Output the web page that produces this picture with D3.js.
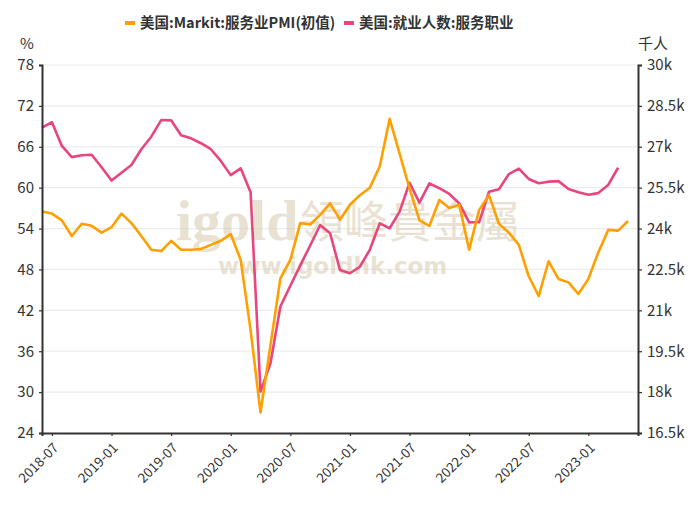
<!DOCTYPE html>
<html>
<head>
<meta charset="utf-8">
<script src="https://cdn.jsdelivr.net/npm/d3@7"></script>
<style>
  html, body { margin: 0; padding: 0; background: #fff; }
  svg { display: block; font-family: "Noto Sans CJK SC", "Noto Sans", sans-serif; }
</style>
</head>
<body>
<svg id="chart" width="700" height="525"></svg>
<script>
// ---- data ----
const months = [
  "2018-06","2018-07","2018-08","2018-09","2018-10","2018-11","2018-12",
  "2019-01","2019-02","2019-03","2019-04","2019-05","2019-06","2019-07","2019-08","2019-09","2019-10","2019-11","2019-12",
  "2020-01","2020-02","2020-03","2020-04","2020-05","2020-06","2020-07","2020-08","2020-09","2020-10","2020-11","2020-12",
  "2021-01","2021-02","2021-03","2021-04","2021-05","2021-06","2021-07","2021-08","2021-09","2021-10","2021-11","2021-12",
  "2022-01","2022-02","2022-03","2022-04","2022-05","2022-06","2022-07","2022-08","2022-09","2022-10","2022-11","2022-12",
  "2023-01","2023-02","2023-03","2023-04","2023-05","2023-06"
];
const seriesNames = ["美国:Markit:服务业PMI(初值)", "美国:就业人数:服务职业"];
// Services PMI flash (%), 2018-06 .. 2023-05
const pmiValues = [
  56.5, 56.2, 55.2, 52.9, 54.7, 54.4, 53.4,
  54.2, 56.2, 54.8, 52.9, 50.9, 50.7, 52.2, 50.9, 50.9, 51.0, 51.6, 52.2,
  53.2, 49.4, 39.1, 27.0, 36.9, 46.7, 49.4, 54.8, 54.6, 56.0, 57.7, 55.3,
  57.5, 58.9, 60.0, 63.1, 70.1, 65.0, 59.9, 55.2, 54.4, 58.2, 57.0, 57.5,
  50.9, 56.7, 58.9, 54.7, 53.4, 51.6, 47.0, 44.1, 49.2, 46.6, 46.1, 44.4,
  46.6, 50.5, 53.8, 53.7, 55.1
];
// Employment, service occupations (thousand persons), 2018-06 .. 2023-04
const empValues = [
  27700, 27900, 27030, 26620, 26690, 26710, 26250,
  25760, 26050, 26330, 26910, 27370, 27980, 27970, 27420, 27310, 27130, 26910, 26480,
  25960, 26210, 25330, 18020, 19060, 21140, 21900, 22650, 23380, 24130, 23830, 22480,
  22360, 22600, 23220, 24190, 24010, 24620, 25680, 24950, 25660, 25480, 25270, 24930,
  24230, 24230, 25350, 25440, 26000, 26200, 25820, 25660, 25720, 25740, 25450, 25330,
  25240, 25300, 25600, 26230
];
const leftTicks = [24, 30, 36, 42, 48, 54, 60, 66, 72, 78];
const rightTicks = [16500, 18000, 19500, 21000, 22500, 24000, 25500, 27000, 28500, 30000];
const xTickLabels = ["2018-07","2019-01","2019-07","2020-01","2020-07","2021-01","2021-07","2022-01","2022-07","2023-01"];
const colors = ["#ff9f00", "#e8467c"];

// ---- layout ----
const svg = d3.select("#chart");
const L = 42, R = 638, T = 65, B = 433;

const x = d3.scalePoint().domain(months).range([L, R]);
const yL = d3.scaleLinear().domain([24, 78]).range([B, T]);
const yR = d3.scaleLinear().domain([16500, 30000]).range([B, T]);

// grid
svg.append("g").selectAll("line").data(leftTicks.slice(1)).join("line")
  .attr("x1", L).attr("x2", R)
  .attr("y1", d => yL(d)).attr("y2", d => yL(d))
  .attr("stroke", "#ececec").attr("stroke-width", 1.2);

// watermark
const wm = svg.append("g").attr("opacity", 0.55).attr("fill", "#d8ccb0");
wm.append("text").attr("x", 176).attr("y", 240)
  .attr("font-family", "Liberation Serif, serif").attr("font-weight", "bold")
  .attr("font-size", 58).text("igold");
wm.append("text").attr("x", 300).attr("y", 238)
  .attr("font-family", "Noto Sans CJK TC, serif")
  .attr("font-size", 44).text("領峰貴金屬");
wm.append("text").attr("x", 218).attr("y", 274)
  .attr("font-family", "DejaVu Sans, sans-serif").attr("font-weight", "bold")
  .attr("font-size", 23).text("www.igoldhk.com");

// lines
const linePmi = d3.line().x((d, i) => x(months[i])).y(d => yL(d));
const lineEmp = d3.line().x((d, i) => x(months[i])).y(d => yR(d));
svg.append("path").datum(empValues).attr("d", lineEmp)
  .attr("fill", "none").attr("stroke", colors[1]).attr("stroke-width", 2.6)
  .attr("stroke-linejoin", "round");
svg.append("path").datum(pmiValues).attr("d", linePmi)
  .attr("fill", "none").attr("stroke", colors[0]).attr("stroke-width", 2.6)
  .attr("stroke-linejoin", "round");

// axes
const axisColor = "#333";
const gL = svg.append("g").attr("transform", `translate(${L},0)`)
  .call(d3.axisLeft(yL).tickValues(leftTicks).tickSize(3).tickPadding(5));
const gR = svg.append("g").attr("transform", `translate(${R},0)`)
  .call(d3.axisRight(yR).tickValues(rightTicks).tickSize(4).tickPadding(5)
    .tickFormat(d => (d / 1000) + "k"));
const gB = svg.append("g").attr("transform", `translate(0,${B})`)
  .call(d3.axisBottom(x).tickValues(xTickLabels).tickSize(3).tickPadding(4));
[gL, gR, gB].forEach(g => {
  g.select(".domain").attr("stroke", axisColor).attr("stroke-width", 2);
  g.selectAll(".tick line").attr("stroke", axisColor).attr("stroke-width", 1.2);
  g.selectAll(".tick text").attr("fill", "#333").attr("font-size", 15)
    .attr("font-family", "Noto Sans CJK SC, sans-serif");
});
gB.selectAll(".tick text").attr("font-size", 13.5)
  .attr("text-anchor", "end")
  .attr("dx", "-2").attr("dy", "0.35em")
  .attr("transform", "translate(0,6) rotate(-45)");

// unit labels
svg.append("text").attr("x", 27).attr("y", 49).attr("text-anchor", "middle")
  .attr("font-size", 15).attr("fill", "#333").text("%");
svg.append("text").attr("x", 653).attr("y", 49).attr("text-anchor", "middle")
  .attr("font-size", 15).attr("fill", "#333").text("千人");

// legend
const leg = svg.append("g");
const legItems = [{x: 125, name: seriesNames[0], c: colors[0]}, {x: 344, name: seriesNames[1], c: colors[1]}];
legItems.forEach(it => {
  leg.append("rect").attr("x", it.x).attr("y", 21).attr("width", 10).attr("height", 4).attr("fill", it.c);
  leg.append("text").attr("x", it.x + 15).attr("y", 28).attr("font-size", 14.5)
    .attr("font-weight", "bold").attr("fill", "#333").text(it.name);
});
</script>
</body>
</html>
